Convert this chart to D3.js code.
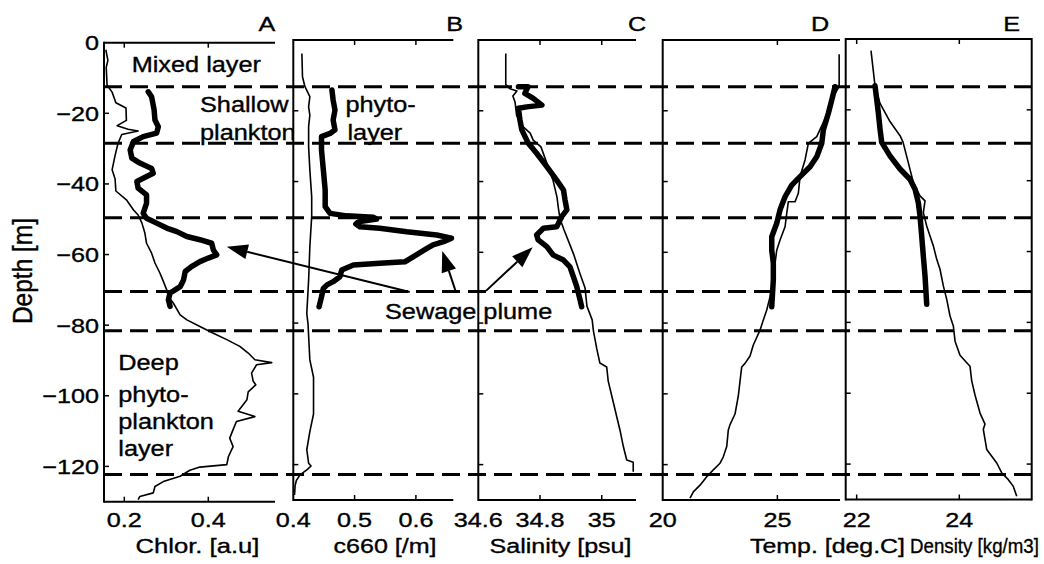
<!DOCTYPE html>
<html>
<head>
<meta charset="utf-8">
<script src="https://cdn.jsdelivr.net/npm/d3@7"></script>
<style>
  html, body { margin: 0; padding: 0; background: #fff; }
  svg { display: block; }
  text { font-family: "Liberation Sans", Arial, Helvetica, sans-serif; fill: #000; stroke: #000; stroke-width: 0.35px; }
</style>
</head>
<body>
<svg id="chart" width="1044" height="564"></svg>
<script>
// ---- Profile data: [depth (m, negative = below surface), value] ----
// Thin lines: full cast; thick lines: the cast through the plume.
const chlorCast = [[-2,0.156],[-5,0.161],[-7,0.157],[-12,0.159],[-14,0.171],[-17,0.180],[-18.5,0.204],[-22,0.205],[-23.5,0.183],[-24.5,0.209],[-25,0.233],[-26,0.194],[-28.5,0.185],[-32,0.178],[-36,0.171],[-38.5,0.178],[-42,0.180],[-44.5,0.205],[-47.4,0.222],[-48.8,0.233],[-51.1,0.242],[-53.9,0.249],[-56.8,0.253],[-59.6,0.265],[-62.4,0.273],[-65.3,0.285],[-67.6,0.293],[-70,0.301],[-71.9,0.305],[-73.8,0.317],[-77.1,0.333],[-78.5,0.349],[-80.4,0.380],[-82.3,0.412],[-84.1,0.444],[-86,0.475],[-87.9,0.495],[-89.8,0.511],[-90.6,0.551],[-91.2,0.515],[-93.6,0.503],[-95.9,0.507],[-96.9,0.513],[-98.9,0.495],[-101.1,0.492],[-104.4,0.471],[-105.9,0.511],[-107.3,0.467],[-109.6,0.459],[-112,0.451],[-114.4,0.459],[-117.2,0.448],[-119.5,0.444],[-120.2,0.380],[-121.1,0.356],[-122.8,0.333],[-124.3,0.293],[-125.7,0.273],[-127.5,0.269],[-128.5,0.237],[-129.4,0.233]];
const chlorPlume = [[-13.9,0.257],[-15.3,0.265],[-19,0.271],[-21.9,0.273],[-23.8,0.281],[-25.6,0.277],[-26.6,0.245],[-28,0.222],[-30.4,0.214],[-32.7,0.218],[-34.1,0.237],[-35.6,0.265],[-37,0.269],[-38.4,0.245],[-39.3,0.230],[-41.2,0.233],[-43.1,0.253],[-45.5,0.253],[-48.3,0.245],[-49.7,0.253],[-51.1,0.277],[-52.5,0.301],[-53.5,0.325],[-54.9,0.349],[-55.8,0.380],[-56.8,0.408],[-58.7,0.412],[-60.1,0.420],[-61,0.400],[-62,0.380],[-63.4,0.360],[-64.8,0.345],[-67.2,0.341],[-69.1,0.333],[-70,0.321],[-70.9,0.309],[-72.8,0.305],[-74.7,0.309]];

const c660Cast = [[-3.8,0.414],[-10.4,0.415],[-13.2,0.419],[-16,0.427],[-18.9,0.425],[-21.2,0.427],[-24.5,0.425],[-30.2,0.425],[-36.7,0.427],[-44.3,0.430],[-49.9,0.430],[-58.4,0.427],[-67.8,0.425],[-77.3,0.422],[-80.2,0.424],[-90.4,0.427],[-95.3,0.433],[-105.7,0.433],[-110.7,0.427],[-115.8,0.422],[-119.6,0.425],[-120.4,0.429],[-121.5,0.422],[-122.9,0.411],[-124.5,0.405],[-125.9,0.403],[-128.6,0.402]];
const c660Plume = [[-14.1,0.463],[-17,0.465],[-19.8,0.468],[-22.6,0.465],[-25.4,0.468],[-26.4,0.460],[-27.3,0.446],[-31.1,0.446],[-36.7,0.449],[-42.4,0.452],[-47.1,0.452],[-49,0.460],[-49.7,0.487],[-50.1,0.531],[-50.6,0.536],[-51.4,0.506],[-52,0.502],[-52.8,0.509],[-53.2,0.541],[-54.2,0.585],[-55.1,0.634],[-56,0.658],[-57,0.645],[-57.9,0.628],[-58.9,0.618],[-61.2,0.596],[-62.7,0.582],[-63.1,0.541],[-63.6,0.498],[-65,0.479],[-66.9,0.476],[-68.3,0.465],[-69.2,0.455],[-70.2,0.449],[-72.6,0.446],[-75.4,0.442]];

const salinityCast = [[-3.8,34.689],[-12.6,34.689],[-13.8,34.703],[-14.4,34.725],[-15.8,34.712],[-17.5,34.719],[-21.2,34.724],[-23.7,34.735],[-26.3,34.768],[-28.3,34.778],[-30.2,34.803],[-34.8,34.822],[-39.6,34.842],[-44.4,34.855],[-47.2,34.859],[-50.6,34.865],[-53.7,34.878],[-57.9,34.897],[-60.8,34.910],[-65.9,34.929],[-70.1,34.946],[-75.2,34.952],[-79.1,34.969],[-82.2,34.973],[-87.3,34.984],[-91.3,34.994],[-92.4,35.016],[-96.4,35.021],[-102.6,35.038],[-106.6,35.049],[-110.2,35.059],[-114.9,35.070],[-118.7,35.081],[-119.3,35.102],[-122,35.102]];
const salinityPlume = [[-13.2,34.730],[-13.2,34.761],[-15.1,34.751],[-16.5,34.778],[-18.4,34.806],[-18.9,34.757],[-19.3,34.730],[-22.6,34.735],[-25.4,34.741],[-29.2,34.762],[-32,34.789],[-35.8,34.822],[-39.6,34.854],[-42.4,34.876],[-45.2,34.881],[-48,34.887],[-49.9,34.870],[-52.8,34.854],[-53.2,34.811],[-55.1,34.789],[-56.5,34.794],[-58.4,34.822],[-60.8,34.843],[-62.2,34.876],[-64.1,34.897],[-66.9,34.908],[-69.7,34.919],[-73.5,34.930],[-75.4,34.935]];

const tempCast = [[-4,27.693],[-13.1,27.693],[-16.1,27.44],[-20.2,27.222],[-23.3,27.004],[-27.3,26.716],[-29.2,26.35],[-33.9,26.206],[-38.6,25.988],[-43.3,25.914],[-45.7,25.77],[-45.7,25.478],[-49,25.408],[-52.8,25.334],[-56.5,25.116],[-59.4,24.972],[-63.1,24.898],[-66.9,24.823],[-72.6,24.679],[-76.3,24.536],[-79.1,24.387],[-82,24.243],[-86.2,23.951],[-89.3,23.807],[-91.4,23.589],[-92.4,23.445],[-96.4,23.371],[-100.6,23.297],[-105.7,23.153],[-108.7,22.935],[-110.2,22.861],[-114.9,22.791],[-117.8,22.643],[-119.6,22.499],[-121.5,22.207],[-123.4,21.919],[-125.8,21.627],[-127.7,21.335],[-129.5,21.191]];
const tempPlume = [[-13.2,27.514],[-17,27.37],[-20.7,27.222],[-25.4,27.004],[-29.2,26.934],[-33,26.716],[-35.8,26.424],[-38.6,25.988],[-41,25.626],[-44.3,25.334],[-48,25.116],[-51.8,24.972],[-55.6,24.754],[-59.4,24.754],[-63.1,24.823],[-67.8,24.823],[-75.4,24.754]];

const densityCast = [[-3.3,22.279],[-13.2,22.357],[-18.2,22.455],[-23.3,22.649],[-27.3,22.845],[-29.1,22.903],[-34.9,23.006],[-40.5,23.104],[-44.3,23.234],[-45.7,23.332],[-49,23.299],[-52.8,23.365],[-55.6,23.429],[-58.4,23.494],[-62.2,23.56],[-65,23.624],[-69.7,23.689],[-73.5,23.755],[-78.2,23.819],[-81,23.884],[-85.3,23.917],[-89.3,24.014],[-91.4,24.145],[-92.4,24.209],[-96.5,24.242],[-100.5,24.306],[-105.6,24.404],[-108.7,24.501],[-110.2,24.468],[-115.9,24.535],[-117.8,24.632],[-119.7,24.73],[-122.5,24.827],[-124.4,24.956],[-126.3,25.053],[-129.1,25.119]];
const densityPlume = [[-13.2,22.357],[-17,22.39],[-20.7,22.421],[-25.4,22.455],[-29.2,22.488],[-33,22.649],[-36.7,22.845],[-39.6,23.039],[-42.4,23.137],[-46.2,23.201],[-49.9,23.234],[-55.6,23.267],[-61.3,23.299],[-66.9,23.332],[-74.9,23.365]];

// Layer boundaries (m) drawn as dashed lines across all panels
const layerDepths = [-13.2, -29.2, -50.2, -71.1, -82.2, -122.8];
const depthTicks = [0, -20, -40, -60, -80, -100, -120];

// ---- Panel layout ----
const panels = [
  { letter: "A", px: [104, 275],      py: [42.7, 501.7], domain: [0.1517, 0.5588], ticks: [0.2, 0.4], labels: [0.2, 0.4],       title: "Chlor. [a.u]",    titleX: 197.5, titleW: 124, letterX: 267,    cast: chlorCast,    plume: chlorPlume,    box: false },
  { letter: "B", px: [293.3, 453.3],  py: [40, 500],     domain: [0.4, 0.661],     ticks: [0.5, 0.6], labels: [0.4, 0.5, 0.6],  title: "c660 [/m]",       titleX: 385,   titleW: 103, letterX: 454.7,  cast: c660Cast,     plume: c660Plume,     box: false },
  { letter: "C", px: [478.3, 636],    py: [40, 500],     domain: [34.6, 35.111],   ticks: [34.8, 35], labels: [34.6, 34.8, 35], title: "Salinity [psu]",  titleX: 560.5, titleW: 142, letterX: 637,    cast: salinityCast, plume: salinityPlume, box: false },
  { letter: "D", px: [662.7, 840],    py: [40, 500],     domain: [20, 27.73],      ticks: [25],       labels: [20, 25],         title: "Temp. [deg.C]",   titleX: 827.5, titleW: 155, letterX: 820,    cast: tempCast,     plume: tempPlume,     box: false },
  { letter: "E", px: [845.7, 1031.7], py: [39, 499.5],   domain: [21.786, 25.411], ticks: [22, 24],   labels: [22, 24],         title: "Density [kg/m3]", titleX: 974.5, titleW: 129, letterX: 1011.7, cast: densityCast,  plume: densityPlume,  box: true }
];

const svg = d3.select("#chart");
const FONT = 22, SX = 1.15;   // annotation text
const TFONT = 21, TSX = 1.2;  // tick labels

function label(g, x, y, str, size, sx, anchor) {
  return g.append("text")
    .attr("transform", `translate(${x},${y}) scale(${sx},1)`)
    .attr("text-anchor", anchor || "start")
    .attr("font-size", size)
    .text(str);
}

panels.forEach(p => {
  p.x = d3.scaleLinear().domain(p.domain).range(p.px);
  p.y = d3.scaleLinear().domain([0, -130]).range(p.py);
});

panels.forEach((p, i) => {
  const g = svg.append("g").attr("class", "panel-" + p.letter);
  const [x0, x1] = p.px, [y0, y1] = p.py;
  // white background hides any overflow from the panel to the left
  g.append("rect").attr("x", x0).attr("y", y0).attr("width", x1 - x0).attr("height", y1 - y0).attr("fill", "#fff");

  // profiles
  const line = d3.line().x(d => p.x(d[1])).y(d => p.y(d[0]));
  g.append("path").datum(p.cast).attr("d", line)
    .attr("fill", "none").attr("stroke", "#000").attr("stroke-width", 1.6).attr("stroke-linejoin", "round");
  g.append("path").datum(p.plume).attr("d", line)
    .attr("fill", "none").attr("stroke", "#000").attr("stroke-width", 5.5)
    .attr("stroke-linejoin", "round").attr("stroke-linecap", "round");

  // frame
  const frame = g.append("g").attr("stroke", "#000").attr("stroke-width", 2).attr("fill", "none");
  frame.append("line").attr("x1", x0).attr("x2", x0).attr("y1", y0 - 1).attr("y2", y1 + 1);
  frame.append("line").attr("x1", x0).attr("x2", x1).attr("y1", y0).attr("y2", y0);
  frame.append("line").attr("x1", x0).attr("x2", x1).attr("y1", y1).attr("y2", y1);
  if (p.box) frame.append("line").attr("x1", x1).attr("x2", x1).attr("y1", y0 - 1).attr("y2", y1 + 1);

  // inward ticks
  const tk = g.append("g").attr("stroke", "#000").attr("stroke-width", 1.5);
  p.ticks.forEach(t => {
    tk.append("line").attr("x1", p.x(t)).attr("x2", p.x(t)).attr("y1", y0).attr("y2", y0 + 5);
    tk.append("line").attr("x1", p.x(t)).attr("x2", p.x(t)).attr("y1", y1).attr("y2", y1 - 5);
  });
  depthTicks.forEach(t => {
    if (t === 0) return;
    tk.append("line").attr("x1", x0).attr("x2", x0 + 5).attr("y1", p.y(t)).attr("y2", p.y(t));
    if (p.box) tk.append("line").attr("x1", x1).attr("x2", x1 - 5).attr("y1", p.y(t)).attr("y2", p.y(t));
  });

  // x tick labels, axis title (stretched to its set width) and panel letter
  p.labels.forEach(t => label(g, p.x(t), 527, String(t), TFONT, TSX, "middle"));
  const title = g.append("text")
    .attr("text-anchor", "middle").attr("font-size", TFONT).text(p.title);
  const natural = title.node().getComputedTextLength() || p.titleW;
  title.attr("transform", `translate(${p.titleX},553) scale(${p.titleW / natural},1)`);
  label(g, p.letterX, 30.5, p.letter, TFONT, TSX, "middle");

  if (i === 0) {
    // depth axis labels
    depthTicks.forEach(t => label(g, 99, p.y(t) + 7.5, d3.format("")(t), TFONT, TSX, "end"));
    g.append("text")
      .attr("transform", "translate(31.5,271) scale(1.12,1) rotate(-90)")
      .attr("text-anchor", "middle").attr("font-size", 24.5).text("Depth [m]");

    // layer names inside panel A (clipped at the next panel)
    svg.append("clipPath").attr("id", "clipA").append("rect")
      .attr("x", x0).attr("y", y0).attr("width", 293.3 - x0).attr("height", y1 - y0);
    const ann = g.append("g").attr("clip-path", "url(#clipA)");
    label(ann, 131.7, 71.7, "Mixed layer", FONT, SX);
    label(ann, 200, 111.5, "Shallow", FONT, SX);
    label(ann, 200, 139.5, "plankton", FONT, SX);
    label(ann, 118.3, 369.5, "Deep", FONT, SX);
    label(ann, 118.3, 402, "phyto-", FONT, SX);
    label(ann, 118.3, 429, "plankton", FONT, SX);
    label(ann, 118.3, 456, "layer", FONT, SX);
  }
});

// dashed layer boundaries across all panels
const yRef = panels[1].y;
const dashes = svg.append("g");
layerDepths.forEach(d => {
  dashes.append("line").attr("x1", 104).attr("x2", 1031.7)
    .attr("y1", yRef(d)).attr("y2", yRef(d))
    .attr("stroke", "#000").attr("stroke-width", 3).attr("stroke-dasharray", "18,8");
});

// remaining annotations
const overlay = svg.append("g");
label(overlay, 345.5, 111.5, "phyto-", FONT, SX);
label(overlay, 347.5, 139.5, "layer", FONT, SX);
label(overlay, 385, 319.3, "Sewage plume", FONT, SX);

// arrows to the plume signatures: [tail panel, tail value, tail depth, tip panel, tip value, tip depth]
const plumeArrows = [
  [1, 0.590, -71.2, 0, 0.444, -57.8],
  [1, 0.665, -71.1, 1, 0.643, -59.6],
  [2, 34.625, -70.9, 2, 34.776, -58.6]
];
plumeArrows.forEach(a => {
  const pt = panels[a[0]], ph = panels[a[3]];
  const tx = pt.x(a[1]), ty = pt.y(a[2]);
  const hx = ph.x(a[4]), hy = ph.y(a[5]);
  const ang = Math.atan2(hy - ty, hx - tx);
  const L = 21, W = 7.5;
  const bx = hx - L * Math.cos(ang), by = hy - L * Math.sin(ang);
  overlay.append("line").attr("x1", tx).attr("y1", ty).attr("x2", bx).attr("y2", by)
    .attr("stroke", "#000").attr("stroke-width", 2);
  const nx = -Math.sin(ang) * W, ny = Math.cos(ang) * W;
  overlay.append("path")
    .attr("d", `M${hx},${hy}L${bx + nx},${by + ny}L${bx - nx},${by - ny}Z`)
    .attr("fill", "#000");
});
</script>
</body>
</html>
